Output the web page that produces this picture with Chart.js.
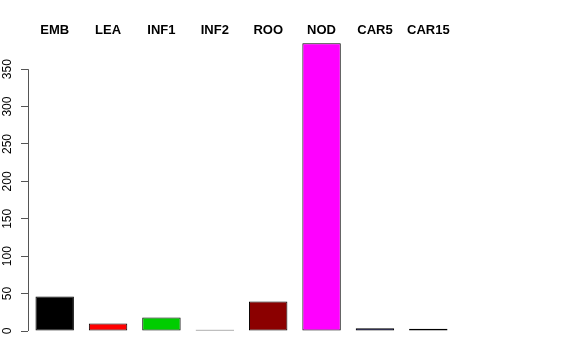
<!DOCTYPE html>
<html>
<head>
<meta charset="utf-8">
<script src="https://cdn.jsdelivr.net/npm/chart.js@4/dist/chart.umd.min.js"></script>
<style>
  html, body { margin: 0; padding: 0; background: #fff; }
  #wrap { width: 576px; height: 360px; }
</style>
</head>
<body>
<div id="wrap"><canvas id="c" width="576" height="360"></canvas></div>
<script>
const categories = ["EMB", "LEA", "INF1", "INF2", "ROO", "NOD", "CAR5", "CAR15"];
const values = [46, 10, 18, 1.8, 39.5, 384.5, 3.6, 2.9];
const barColors = ["#000000", "#FF0000", "#00CD00", "#0000FF", "#8B0000", "#FF00FF", "#000080", "#006400"];
const yTicks = [0, 50, 100, 150, 200, 250, 300, 350];

const axisLinePlugin = {
  id: 'axisLine',
  afterDraw(chart) {
    const y = chart.scales.y;
    const ctx = chart.ctx;
    ctx.save();
    ctx.strokeStyle = '#555555';
    ctx.lineWidth = 1;
    const x = Math.round(y.right) + 0.5;
    ctx.beginPath();
    ctx.moveTo(x, y.getPixelForValue(yTicks[0]));
    ctx.lineTo(x, y.getPixelForValue(yTicks[yTicks.length - 1]));
    ctx.stroke();
    ctx.restore();
  }
};

new Chart(document.getElementById('c'), {
  type: 'bar',
  data: {
    labels: categories,
    datasets: [{
      data: values,
      backgroundColor: barColors,
      borderColor: '#000000',
      borderWidth: 1,
      borderSkipped: false,
      inflateAmount: 0,
      barPercentage: 0.72,
      categoryPercentage: 1.0
    }]
  },
  options: {
    responsive: false,
    animation: false,
    devicePixelRatio: 1,
    layout: { padding: { left: 0, right: 121, top: 0, bottom: 29 } },
    plugins: { legend: { display: false }, tooltip: { enabled: false } },
    scales: {
      x: {
        position: 'top',
        offset: true,
        afterFit(scale) { scale.height = 43; },
        grid: { display: false, drawTicks: false },
        border: { display: false },
        ticks: {
          color: '#000000',
          font: { family: 'Liberation Sans, Arial, sans-serif', size: 13, weight: 'bold' },
          padding: 5,
          maxRotation: 0,
          autoSkip: false
        }
      },
      y: {
        min: 0,
        max: 385,
        afterFit(scale) { scale.width = 28; },
        afterBuildTicks(scale) { scale.ticks = yTicks.map(v => ({ value: v })); },
        grid: { drawOnChartArea: false, drawTicks: true, tickLength: 7, color: '#555555' },
        border: { display: false },
        ticks: {
          color: '#000000',
          minRotation: 90,
          maxRotation: 90,
          crossAlign: 'center',
          padding: 3,
          font: { family: 'Liberation Sans, Arial, sans-serif', size: 12 }
        }
      }
    }
  },
  plugins: [axisLinePlugin]
});
</script>
</body>
</html>
